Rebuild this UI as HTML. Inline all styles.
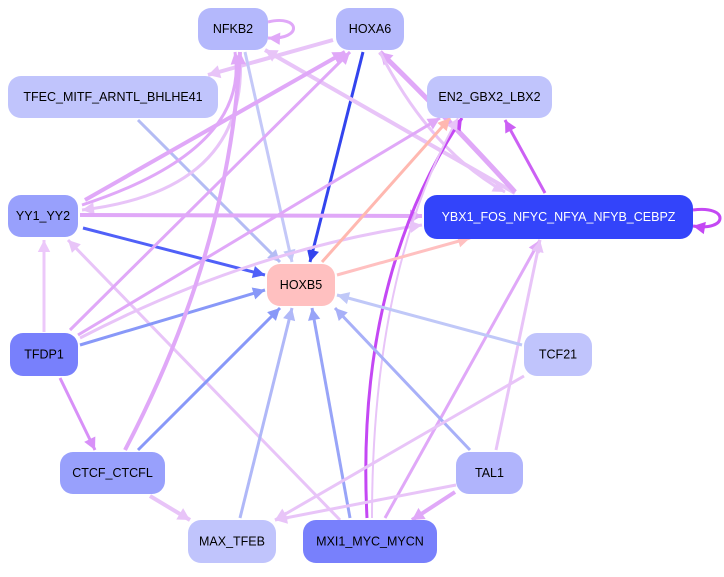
<!DOCTYPE html>
<html><head><meta charset="utf-8"><style>
body{margin:0;background:#fff;width:724px;height:572px;overflow:hidden}
text{font-family:"Liberation Sans",sans-serif;font-size:12.5px;text-anchor:middle;dominant-baseline:central}
</style></head><body>
<svg id="s" width="724" height="572" xmlns="http://www.w3.org/2000/svg">
<g id="e" fill="none" stroke-linecap="butt"></g>
<g id="n"></g>
</svg>
<script>
const E=document.getElementById('e'),N=document.getElementById('n'),ns='http://www.w3.org/2000/svg';
function el(t,a,p){const x=document.createElementNS(ns,t);for(const k in a)x.setAttribute(k,a[k]);p.appendChild(x);return x;}
function edge(p,c,w,head=true){
  let d,ex,ey,tx,ty;
  if(p.length==4){d=`M${p[0]},${p[1]}L${p[2]},${p[3]}`;tx=p[2]-p[0];ty=p[3]-p[1];ex=p[2];ey=p[3];}
  else if(p.length==6){d=`M${p[0]},${p[1]}Q${p[2]},${p[3]} ${p[4]},${p[5]}`;tx=p[4]-p[2];ty=p[5]-p[3];ex=p[4];ey=p[5];}
  else{d=`M${p[0]},${p[1]}C${p[2]},${p[3]} ${p[4]},${p[5]} ${p[6]},${p[7]}`;tx=p[6]-p[4];ty=p[7]-p[5];ex=p[6];ey=p[7];}
  el('path',{d,stroke:c,'stroke-width':w},E);
  if(head){const L=Math.hypot(tx,ty),ux=tx/L,uy=ty/L,h=12,b=5+w*0.4;
    const bx=ex-ux*h,by=ey-uy*h;
    el('polygon',{points:`${ex},${ey} ${bx-uy*b},${by+ux*b} ${bx+uy*b},${by-ux*b}`,fill:c},E);}
}
const LP='#e8c4f8',MP='#e0a8f8',DP='#c448f4';
edge([333,40,208,75],LP,4);
edge([363,52,310,262],'#3344ee',3);
edge([515,193,265,50],LP,4);
edge([515,192,440,110,380,52],MP,5);
edge([380,52,430,150,505,192],LP,3);
edge([138,120,280,262],'#b4bcf4',3);
edge([245,52,292,262],'#c4c8f8',3);
edge([82,205,250,150,235,52],MP,3);
edge([240,52,250,190,82,210],LP,3);
edge([85,200,345,52],MP,4);
edge([80,215,422,216],MP,4);
edge([83,228,265,275],'#5060f8',3);
edge([44,332,44,240],'#ecc8fa',3);
edge([340,520,68,240],LP,3);
edge([70,330,350,52],MP,3);
edge([78,335,440,118],MP,3);
edge([80,338,250,250,422,225],LP,3);
edge([80,345,265,290],'#8898f8',3);
edge([60,378,95,450],'#d890f8',3);
edge([125,450,230,250,240,52],MP,4);
edge([138,450,280,308],'#8898f8',3);
edge([150,496,190,520],LP,4);
edge([240,518,292,308],'#b0b8f8',3);
edge([350,518,312,308],'#98a4f8',3);
edge([367,518,355,280,462,118],DP,3);
edge([372,518,372,270,458,118],LP,2);
edge([385,518,540,240],MP,3);
edge([470,450,335,308],'#a8b0f8',3);
edge([455,492,412,520],MP,4);
edge([456,485,275,520],LP,3);
edge([524,376,275,520],LP,3);
edge([496,450,540,240],LP,3);
edge([522,345,337,295],'#c0c8f8',3);
edge([337,275,470,238],'#ffc0c0',3);
edge([322,262,450,118],'#ffb8b0',3);
edge([545,193,505,120],'#cc60f4',3);
edge([693,210,730,205,728,232,693,226],DP,3);
edge([268,22,300,14,304,40,268,38],MP,3);
const nodes=[
['NFKB2',198,8,70,42,'#b4b8fc','#000'],
['HOXA6',336,8,68,42,'#b4b8fc','#000'],
['TFEC_MITF_ARNTL_BHLHE41',8,76,210,42,'#c0c4fc','#000'],
['EN2_GBX2_LBX2',427,76,125,42,'#c0c4fc','#000'],
['YY1_YY2',8,195,70,42,'#98a0fc','#000'],
['YBX1_FOS_NFYC_NFYA_NFYB_CEBPZ',424,195,269,44,'#3344fa','#fff'],
['HOXB5',267,264,68,42,'#ffc0c0','#000'],
['TFDP1',10,333,68,43,'#7880fc','#000'],
['TCF21',524,333,68,43,'#c0c4fc','#000'],
['CTCF_CTCFL',60,452,105,42,'#98a0fc','#000'],
['TAL1',456,452,67,42,'#b0b4fc','#000'],
['MAX_TFEB',188,520,88,43,'#c0c4fc','#000'],
['MXI1_MYC_MYCN',303,520,134,43,'#7880fc','#000']];
for(const [t,x,y,w,h,f,c] of nodes){
  el('rect',{x,y,width:w,height:h,rx:13,fill:f},N);
  const tx=el('text',{x:x+w/2,y:y+h/2,fill:c},N);tx.textContent=t;
}
</script>
</body></html>
